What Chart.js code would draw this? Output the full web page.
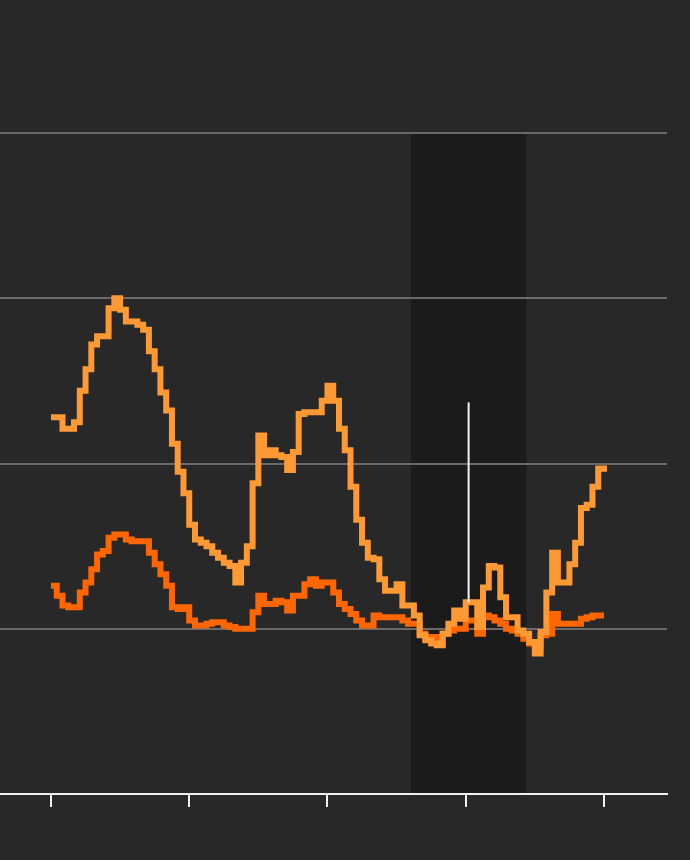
<!DOCTYPE html>
<html>
<head>
<meta charset="utf-8">
<script src="https://cdn.jsdelivr.net/npm/chart.js@4"></script>
<style>
  html, body { margin: 0; padding: 0; background: #282828; }
  #wrap { width: 690px; height: 860px; }
</style>
</head>
<body>
<div id="wrap"><canvas id="chart" width="690" height="860"></canvas></div>
<script>
// Monthly steps, index 0 sits on the first tick
const xTicks = [0, 24, 48, 72, 96];
const yTicks = [0, 1, 2, 3, 4];

const lightSeries = [
  2.28, 2.28, 2.21, 2.21, 2.25, 2.44, 2.57, 2.72, 2.77, 2.77,
  2.94, 3.00, 2.93, 2.86, 2.86, 2.84, 2.81, 2.68, 2.57, 2.43,
  2.32, 2.12, 1.95, 1.82, 1.63, 1.54, 1.52, 1.50, 1.46, 1.43,
  1.40, 1.38, 1.28, 1.40, 1.50, 1.88, 2.17, 2.05, 2.08, 2.05,
  2.04, 1.96, 2.07, 2.30, 2.31, 2.31, 2.31, 2.38, 2.47, 2.38,
  2.21, 2.08, 1.86, 1.66, 1.52, 1.43, 1.42, 1.30, 1.23, 1.23,
  1.27, 1.14, 1.14, 1.08, 0.96, 0.93, 0.91, 0.90, 0.97, 1.03,
  1.11, 1.06, 1.16, 1.16, 1.01, 1.25, 1.38, 1.37, 1.19, 1.07,
  1.07, 0.99, 0.97, 0.92, 0.85, 0.98, 1.22, 1.46, 1.28, 1.28,
  1.39, 1.52, 1.73, 1.75, 1.86, 1.97, 1.95
];

const darkSeries = [
  1.26, 1.20, 1.14, 1.13, 1.13, 1.22, 1.28, 1.36, 1.45, 1.47,
  1.55, 1.57, 1.57, 1.54, 1.53, 1.53, 1.53, 1.46, 1.39, 1.33,
  1.26, 1.13, 1.12, 1.13, 1.05, 1.02, 1.02, 1.03, 1.04, 1.04,
  1.02, 1.01, 1.00, 1.00, 1.00, 1.10, 1.20, 1.15, 1.15, 1.17,
  1.16, 1.11, 1.20, 1.20, 1.27, 1.30, 1.26, 1.28, 1.28, 1.22,
  1.15, 1.12, 1.09, 1.05, 1.02, 1.02, 1.08, 1.07, 1.07, 1.07,
  1.07, 1.05, 1.03, 1.03, 0.97, 0.94, 0.95, 0.91, 0.97, 0.99,
  1.00, 1.00, 1.05, 1.05, 0.97, 1.08, 1.07, 1.05, 1.03, 1.00,
  0.99, 0.97, 0.94, 0.91, 0.89, 0.96, 0.97, 1.09, 1.03, 1.03,
  1.03, 1.03, 1.06, 1.07, 1.08, 1.08, 1.08
];

// shaded period and the marker line
const shadeRange = [62.5, 82.5];
const markerX = 72.5;
const markerRange = [1.16, 2.37];

const xRange = [-8.85, 106.94];

const toPoints = arr => arr.map((v, i) => ({ x: i, y: v }));

// shaded band goes under the grid lines
const shadePlugin = {
  id: "shade",
  beforeDraw(chart) {
    const { ctx, chartArea, scales } = chart;
    const x1 = scales.x.getPixelForValue(shadeRange[0]);
    const x2 = scales.x.getPixelForValue(shadeRange[1]);
    ctx.save();
    ctx.fillStyle = "#1b1b1b";
    ctx.fillRect(x1, chartArea.top, x2 - x1, chartArea.bottom - chartArea.top);
    ctx.restore();
  }
};

new Chart(document.getElementById("chart"), {
  type: "line",
  data: {
    datasets: [
      {
        data: [{ x: markerX, y: markerRange[0] }, { x: markerX, y: markerRange[1] }],
        borderColor: "#f4f4f4",
        borderWidth: 2,
        pointRadius: 0
      },
      {
        data: toPoints(lightSeries),
        borderColor: "#ff9933",
        borderWidth: 6,
        stepped: true,
        pointRadius: 0,
        borderCapStyle: "butt",
        borderJoinStyle: "miter"
      },
      {
        data: toPoints(darkSeries),
        borderColor: "#ff6600",
        borderWidth: 6,
        stepped: true,
        pointRadius: 0,
        borderCapStyle: "butt",
        borderJoinStyle: "miter"
      }
    ]
  },
  options: {
    responsive: false,
    animation: false,
    events: [],
    layout: { padding: { top: 133, left: 0, right: 23, bottom: 53 } },
    plugins: { legend: { display: false }, tooltip: { enabled: false } },
    scales: {
      x: {
        type: "linear",
        min: xRange[0],
        max: xRange[1],
        afterBuildTicks: s => { s.ticks = xTicks.map(v => ({ value: v })); },
        ticks: { display: false },
        grid: {
          drawOnChartArea: false,
          drawTicks: true,
          tickLength: 13,
          color: "#f0f0f0",
          lineWidth: 2
        },
        border: { display: true, color: "#f0f0f0", width: 2 }
      },
      y: {
        min: yTicks[0],
        max: yTicks[yTicks.length - 1],
        afterBuildTicks: s => { s.ticks = yTicks.map(v => ({ value: v })); },
        ticks: { display: false },
        grid: {
          drawTicks: false,
          color: c => (c.tick && c.tick.value === 0 ? "rgba(0,0,0,0)" : "#6a6a6a"),
          lineWidth: 2
        },
        border: { display: false }
      }
    }
  },
  plugins: [shadePlugin]
});
</script>
</body>
</html>
